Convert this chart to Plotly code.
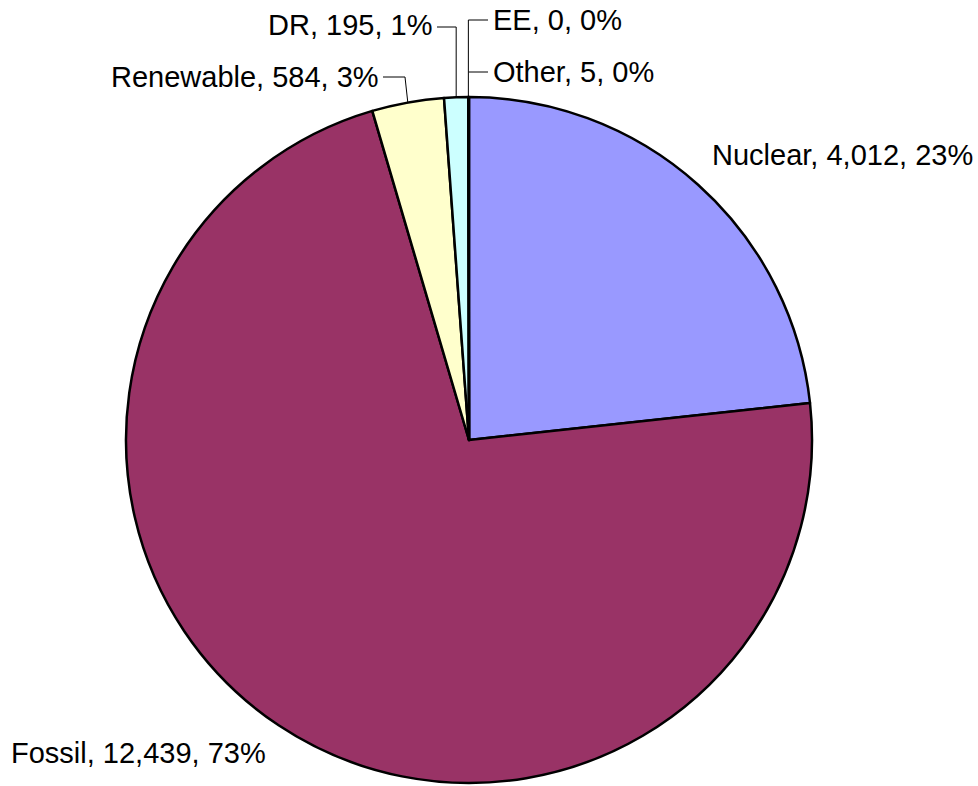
import math
import plotly.graph_objects as go

# Capacity by resource type
categories = ["Nuclear", "Fossil", "Renewable", "DR", "EE", "Other"]
values = [4012, 12439, 584, 195, 0, 5]
percent_labels = ["23%", "73%", "3%", "1%", "0%", "0%"]
colors = ["#9999FF", "#993366", "#FFFFCC", "#CCFFFF", "#660066", "#FF8080"]

W, H = 978, 786
CX, CY, R = 469, 440, 343  # pie centre and radius in pixels


def px(x):
    return x / W


def py(y):
    return 1 - y / H


fig = go.Figure(
    go.Pie(
        labels=categories,
        values=values,
        sort=False,
        direction="clockwise",
        rotation=0,
        marker=dict(colors=colors, line=dict(color="black", width=2.5)),
        textinfo="none",
        hoverinfo="label+value+percent",
        showlegend=False,
        domain=dict(x=[px(CX - R), px(CX + R)], y=[py(CY + R), py(CY - R)]),
    )
)

# Slice mid-point on the rim, used to anchor leader lines
total = sum(values)


def rim_point(i):
    before = sum(values[:i])
    frac = (before + values[i] / 2) / total
    ang = 2 * math.pi * frac
    return CX + R * math.sin(ang), CY - R * math.cos(ang)


def label_text(i):
    return f"{categories[i]}, {values[i]:,}, {percent_labels[i]}"


font = dict(family="Liberation Sans, Arial, sans-serif", size=29, color="black")

# (index, text x, text y, anchor)
placements = [
    (0, 710, 155, "left"),
    (1, 9, 753, "left"),
    (2, 381, 77, "right"),
    (3, 434, 25, "right"),
    (4, 491, 20, "left"),
    (5, 491, 72, "left"),
]
for i, x, y, anchor in placements:
    fig.add_annotation(
        x=px(x), y=py(y), xref="paper", yref="paper",
        text=label_text(i), showarrow=False,
        xanchor=anchor, yanchor="middle", font=font,
    )

line = dict(color="black", width=1)


def seg(x0, y0, x1, y1):
    fig.add_shape(type="line", xref="paper", yref="paper",
                  x0=px(x0), y0=py(y0), x1=px(x1), y1=py(y1), line=line)


# Renewable leader
rx, ry = rim_point(2)
seg(383, 77, 405, 77)
seg(405, 77, rx, ry)

# DR leader
dx, dy = rim_point(3)
seg(437, 27, dx, 27)
seg(dx, 27, dx, dy)

# EE and Other leaders share the vertical stem at the top of the pie
ex, ey = rim_point(4)
ox, oy = rim_point(5)
seg(ex, ey, ex, 20)
seg(ex, 20, 488, 20)
seg(ox, 72, 488, 72)

fig.update_layout(
    width=W, height=H,
    margin=dict(l=0, r=0, t=0, b=0),
    paper_bgcolor="white",
    plot_bgcolor="white",
)

fig.write_html("out.html")
